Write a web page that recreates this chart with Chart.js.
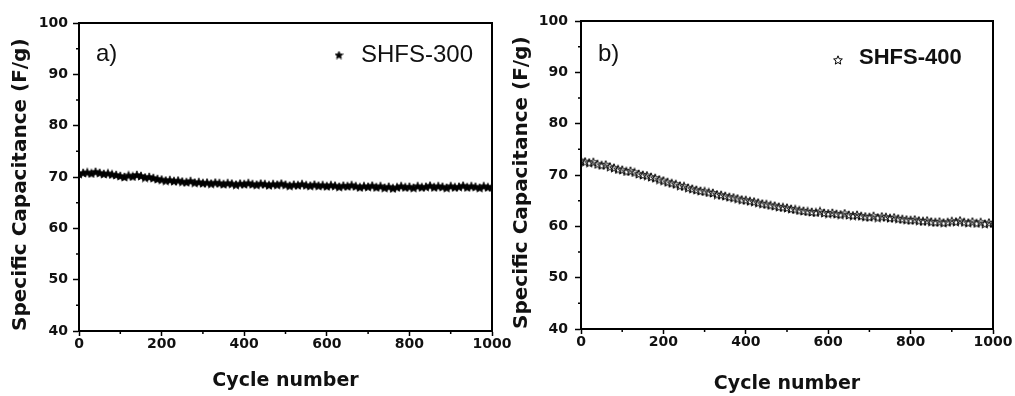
<!DOCTYPE html>
<html><head><meta charset="utf-8">
<script src="https://cdn.jsdelivr.net/npm/chart.js@4.4.1/dist/chart.umd.min.js"></script>
<style>
html,body{margin:0;padding:0;background:#fff;width:1015px;height:396px;overflow:hidden}
canvas{position:absolute;top:0}
#ca{left:0}
#cb{left:500px}
</style></head><body>
<canvas id="ca" width="520" height="396"></canvas>
<canvas id="cb" width="515" height="396"></canvas>
<script>
const cycles = [0,10,20,30,40,50,60,70,80,90,100,110,120,130,140,150,160,170,180,190,200,210,220,230,240,250,260,270,280,290,300,310,320,330,340,350,360,370,380,390,400,410,420,430,440,450,460,470,480,490,500,510,520,530,540,550,560,570,580,590,600,610,620,630,640,650,660,670,680,690,700,710,720,730,740,750,760,770,780,790,800,810,820,830,840,850,860,870,880,890,900,910,920,930,940,950,960,970,980,990,1000];

const shfs300 = [70.6,70.8,70.9,70.7,71.0,70.8,70.6,70.7,70.5,70.4,
  70.2,70.0,70.3,70.1,70.4,70.2,69.9,70.0,69.8,69.6,
  69.5,69.3,69.4,69.2,69.3,69.1,69.0,69.2,68.9,69.0,
  68.8,68.9,68.7,68.9,68.8,68.6,68.8,68.7,68.5,68.7,
  68.6,68.8,68.6,68.5,68.7,68.6,68.4,68.6,68.5,68.7,
  68.5,68.3,68.5,68.4,68.6,68.4,68.3,68.5,68.3,68.4,
  68.2,68.4,68.3,68.1,68.3,68.2,68.4,68.2,68.0,68.2,
  68.1,68.3,68.0,68.2,67.9,68.1,67.8,68.0,68.2,68.0,
  68.1,67.9,68.2,68.0,68.1,68.3,68.0,68.2,68.1,67.9,
  68.2,68.0,68.1,68.3,68.0,68.2,68.1,67.9,68.2,68.0,
  68.1];

const shfs400 = [72.8,72.6,72.4,72.5,72.1,71.9,72.0,71.6,71.4,71.1,
  71.0,70.7,70.8,70.5,70.2,70.0,69.9,69.6,69.4,69.1,
  68.9,68.6,68.4,68.2,67.9,67.8,67.5,67.3,67.1,66.9,
  66.8,66.6,66.5,66.2,66.1,65.9,65.7,65.6,65.4,65.2,
  65.1,64.9,64.8,64.6,64.4,64.3,64.1,64.0,63.8,63.7,
  63.6,63.4,63.3,63.1,63.0,62.9,62.8,62.7,62.9,62.6,
  62.5,62.6,62.4,62.3,62.5,62.2,62.1,62.2,62.0,61.9,
  61.8,62.0,61.7,61.9,61.8,61.6,61.7,61.5,61.4,61.3,
  61.2,61.3,61.1,61.0,61.1,60.9,60.8,60.9,60.7,60.8,
  61.0,60.9,61.1,60.8,60.7,60.9,60.6,60.8,60.5,60.7,
  60.6];

const majorXTicks = [0,200,400,600,800,1000];
const minorXTicks = [100,300,500,700,900];
const majorYTicks = [40,50,60,70,80,90,100];
const minorYTicks = [45,55,65,75,85,95];
const panelLabels = ['a)','b)'];
const seriesLabels = ['SHFS-300','SHFS-400'];
const xTitle = 'Cycle number';
const yTitle = 'Specific Capacitance (F/g)';

function makeStar(size, filled){
  const c=document.createElement('canvas'); c.width=size; c.height=size;
  const g=c.getContext('2d'); const cx=size/2, cy=size/2+0.4, R=size/2-0.4, r=R*0.45;
  g.beginPath();
  for(let i=0;i<10;i++){const a=-Math.PI/2+i*Math.PI/5; const rr=i%2?r:R; g.lineTo(cx+rr*Math.cos(a), cy+rr*Math.sin(a));}
  g.closePath();
  if(filled){g.fillStyle='#000';g.fill();g.strokeStyle='#000';g.lineWidth=0.8;g.stroke();}
  else {g.strokeStyle='#000';g.lineWidth=1;g.stroke();}
  return c;
}

const decor = {
  id:'decor',
  afterDraw(chart, args, o){
    const {ctx, chartArea:a, scales:{x,y}} = chart;
    ctx.save();
    ctx.strokeStyle='#000';
    ctx.lineWidth=2;
    ctx.beginPath(); ctx.moveTo(a.left-1,a.top); ctx.lineTo(a.right,a.top); ctx.lineTo(a.right,a.bottom+1); ctx.stroke();
    ctx.lineWidth=1.5;
    ctx.beginPath();
    minorXTicks.forEach(v=>{const px=x.getPixelForValue(v); ctx.moveTo(px,a.bottom); ctx.lineTo(px,a.bottom+3);});
    minorYTicks.forEach(v=>{const py=y.getPixelForValue(v); ctx.moveTo(a.left,py); ctx.lineTo(a.left-3,py);});
    ctx.stroke();
    ctx.fillStyle='#111';
    ctx.textBaseline='alphabetic'; ctx.textAlign='left';
    ctx.font='24px "Liberation Sans", Arial, sans-serif';
    ctx.fillText(o.panel, o.panelX, o.panelY);
    const ds = chart.data.datasets[0];
    ctx.drawImage(o.legendStar, o.starX-o.legendStar.width/2, o.starY-o.legendStar.height/2);
    ctx.font=o.legendFont;
    ctx.fillText(ds.label, o.textX, o.textY);
    ctx.restore();
  }
};

function makeChart(id, values, label, pt, cfg){
  return new Chart(document.getElementById(id), {
    type:'scatter',
    data:{datasets:[{label:label, data:cycles.map((c,i)=>({x:c,y:values[i]})), pointStyle:pt, pointRadius:5, showLine:false}]},
    options:{
      responsive:false, animation:false,
      layout:{padding:{left:0, top:cfg.top, right:cfg.right, bottom:0}},
      plugins:{legend:{display:false}, tooltip:{enabled:false}, decor:cfg.decor},
      scales:{
        x:{type:'linear', min:0, max:1000,
          afterBuildTicks:s=>{s.ticks=majorXTicks.map(v=>({value:v}));},
          afterFit:s=>{s.height=cfg.xh;},
          ticks:{callback:v=>String(v), font:{family:'"DejaVu Sans"', weight:'bold', size:14}, color:'#111', padding:0, maxRotation:0, autoSkip:false},
          grid:{drawOnChartArea:false, drawTicks:true, tickLength:5, tickColor:'#000', tickWidth:1.5},
          border:{display:true, color:'#000', width:2},
          title:{display:true, text:xTitle, color:'#111', font:{family:'"DejaVu Sans"', weight:'bold', size:19, lineHeight:1}, padding:{top:0,bottom:cfg.xtp}}
        },
        y:{min:40, max:100,
          afterBuildTicks:s=>{s.ticks=majorYTicks.map(v=>({value:v}));},
          afterFit:s=>{s.width=cfg.yw;},
          ticks:{callback:v=>String(v), font:{family:'"DejaVu Sans"', weight:'bold', size:14}, color:'#111', padding:cfg.ylp},
          grid:{drawOnChartArea:false, drawTicks:true, tickLength:6, tickColor:'#000', tickWidth:1.5},
          border:{display:true, color:'#000', width:2},
          title:{display:true, align:'start', text:yTitle, color:'#111', font:{family:'"DejaVu Sans"', weight:'bold', size:20, lineHeight:1}, padding:{top:cfg.ytp,bottom:0}}
        }
      }
    },
    plugins:[decor]
  });
}

makeChart('ca', shfs300, seriesLabels[0], makeStar(10,true), {
  top:23, right:28, xh:65, yw:79, xtp:5, ylp:5, ytp:11,
  decor:{panel:panelLabels[0], panelX:96, panelY:61, legendStar:makeStar(9,true), starX:339, starY:55,
    legendFont:'24px "Liberation Sans", Arial, sans-serif', textX:361, textY:62}
});
makeChart('cb', shfs400, seriesLabels[1], makeStar(10,false), {
  top:21, right:22, xh:67, yw:81, xtp:2, ylp:7, ytp:12,
  decor:{panel:panelLabels[1], panelX:98, panelY:61, legendStar:makeStar(10,false), starX:338, starY:60,
    legendFont:'bold 22px "Liberation Sans", Arial, sans-serif', textX:359, textY:64}
});
</script>
</body></html>
